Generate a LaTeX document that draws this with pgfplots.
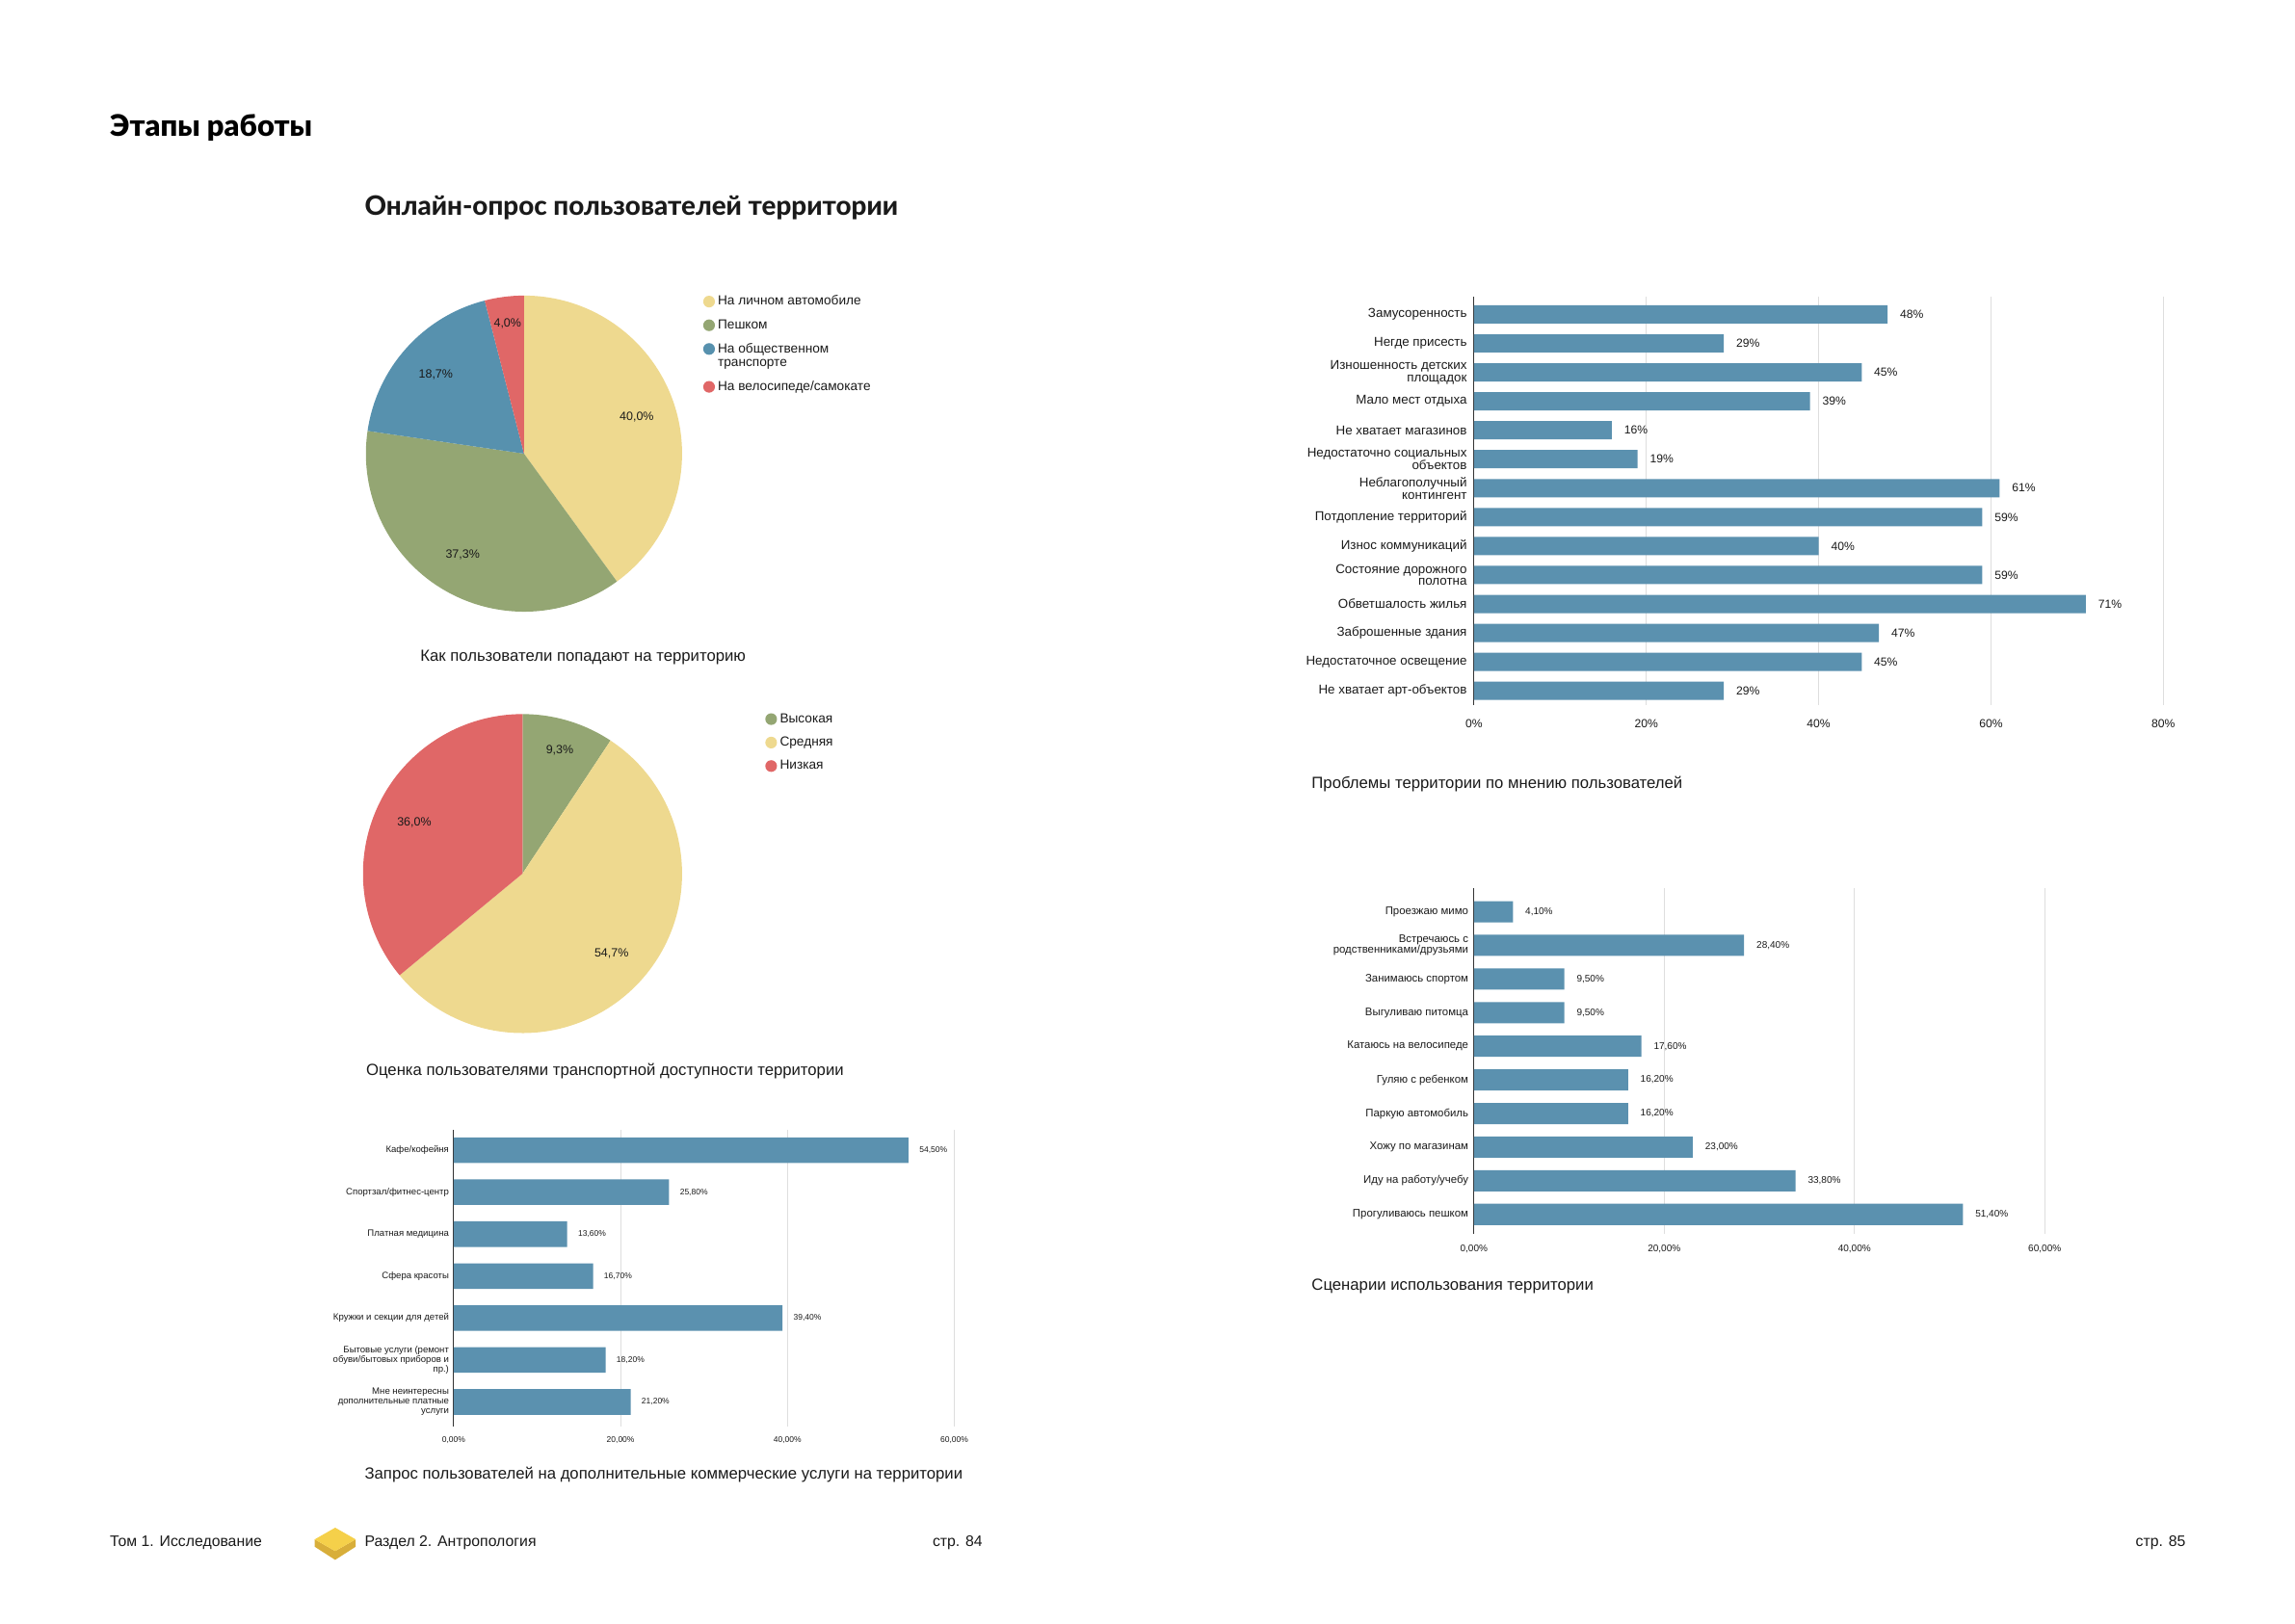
\documentclass[border=0pt]{standalone}
\usepackage{fontspec}
\setmainfont{Liberation Sans}
\IfFontExistsTF{Lato Black}{\newfontfamily\heavyfont{Lato Black}}{\newcommand\heavyfont{\bfseries}}
\IfFontExistsTF{Lato Heavy}{\newfontfamily\semiheavyfont{Lato Heavy}}{\newcommand\semiheavyfont{\bfseries}}
\usepackage{pgfplots}
\usepackage{pgfplotstable}
\pgfplotsset{compat=1.18}
\pgfkeys{/pgf/number format/assume math mode=true}

\definecolor{barblue}{HTML}{5B91AF}
\definecolor{pieyellow}{HTML}{EED98F}
\definecolor{piegreen}{HTML}{94A673}
\definecolor{pieblue}{HTML}{5791AE}
\definecolor{piered}{HTML}{E06767}
\definecolor{gridgray}{HTML}{DEDEDE}
\definecolor{axisgray}{HTML}{333333}
\definecolor{txt}{HTML}{1A1A1A}
\definecolor{logoA}{HTML}{F5D04A}
\definecolor{logoB}{HTML}{D8AE3A}

% pie data: share, colour, label radius
\pgfplotstableread{
v c r
40.0 pieyellow 0.75
37.3 piegreen 0.75
18.7 pieblue 0.75
4.0 piered 0.83
}\pieone
\pgfplotstableread{
v c r
9.3 piegreen 0.81
54.7 pieyellow 0.75
36.0 piered 0.75
}\pietwo

\newcommand\drawpie[2]{%
  \pgfplotstablegetrowsof{#1}%
  \pgfmathtruncatemacro\pien{\pgfplotsretval-1}%
  \xdef\pieang{90}%
  \foreach \i in {0,...,\pien}{%
    \pgfplotstablegetelem{\i}{v}\of{#1}\let\pv\pgfplotsretval
    \pgfplotstablegetelem{\i}{c}\of{#1}\let\pc\pgfplotsretval
    \pgfplotstablegetelem{\i}{r}\of{#1}\let\pr\pgfplotsretval
    \pgfmathsetmacro\pend{\pieang-3.6*\pv}%
    \pgfmathsetmacro\pmid{(\pieang+\pend)/2}%
    \pgfmathsetmacro\px{cos(\pieang)}%
    \pgfmathsetmacro\py{sin(\pieang)}%
    \pgfmathsetmacro\lx{\pr*cos(\pmid)}%
    \pgfmathsetmacro\ly{\pr*sin(\pmid)}%
    \fill[color=\pc] (axis cs:0,0) -- (axis cs:\px,\py)
      arc[start angle=\pieang, end angle=\pend, radius=#2] -- cycle;
    \node[font=\fontsize{8.2}{9}\selectfont, text=txt] at (axis cs:\lx,\ly)
      {\pgfmathprintnumber[fixed,fixed zerofill,precision=1,use comma]{\pv}\%};
    \xdef\pieang{\pend}%
  }%
}

\pgfplotsset{
  pieax/.style={
    anchor=center, scale only axis, hide axis, clip=false,
    xmin=-1, xmax=1, ymin=-1, ymax=1,
    legend cell align=left,
    legend image code/.code={\path[draw=none, fill=none] (-4pt,-4pt) rectangle (4pt,4pt);
      \fill[overlay, ##1, draw=none] (0pt,0pt) circle (4pt);},
    legend style={draw=none, fill=none, anchor=north west, inner sep=0pt,
      font=\fontsize{9}{9.5}\selectfont, row sep=4.3pt, text=txt,
      cells={align=left}},
  },
  hbar/.style={
    xbar, scale only axis, anchor=south west, y dir=reverse, xmin=0,
    axis lines*=left, axis line style={-},
    x axis line style={draw=none},
    y axis line style={draw=axisgray, line width=0.7pt},
    xmajorgrids, major grid style={draw=gridgray, line width=0.6pt},
    tick style={draw=none},
    point meta=x, nodes near coords,
    every node near coord/.append style={text=txt, anchor=west, xshift=2pt},
    yticklabel style={align=right, text=txt},
    xticklabel style={text=txt},
  },
  pct2/.style={
    nodes near coords={\pgfmathprintnumber[fixed,fixed zerofill,precision=2,use comma]{\pgfplotspointmeta}\%},
    xticklabel={\pgfmathprintnumber[fixed,fixed zerofill,precision=2,use comma]{\tick}\%},
  },
}
\tikzset{lbl/.style={anchor=base west, inner sep=0pt, text=txt}}

\begin{document}
\begin{tikzpicture}
\path[use as bounding box] (0pt,0pt) rectangle (1568pt,-1109.2pt);

% headings
\node[lbl, font=\fontsize{20.3}{23}\selectfont\heavyfont, text=black] at (75pt,-93pt) {Этапы работы};
\node[lbl, font=\fontsize{18.3}{21}\selectfont\semiheavyfont] at (249pt,-147pt) {Онлайн-опрос пользователей территории};

% pie 1
\begin{axis}[pieax, at={(358pt,-310pt)}, width=216pt, height=216pt,
  legend style={at={(1.066,1.01)}}]
  \addlegendimage{fill=pieyellow}\addlegendentry{На личном автомобиле}
  \addlegendimage{fill=piegreen}\addlegendentry{Пешком}
  \addlegendimage{fill=pieblue, yshift=4.75pt}\addlegendentry{На общественном\\транспорте}
  \addlegendimage{fill=piered}\addlegendentry{На велосипеде/самокате}
  \pgfplotsextra{\drawpie{\pieone}{108pt}}
\end{axis}
\node[lbl, font=\fontsize{11}{12}\selectfont] at (287pt,-452pt) {Как пользователи попадают на территорию};

% pie 2
\begin{axis}[pieax, at={(357pt,-597pt)}, width=218pt, height=218pt,
  legend style={at={(1.26,1.012)}}]
  \addlegendimage{fill=piegreen}\addlegendentry{Высокая}
  \addlegendimage{fill=pieyellow}\addlegendentry{Средняя}
  \addlegendimage{fill=piered}\addlegendentry{Низкая}
  \pgfplotsextra{\drawpie{\pietwo}{109pt}}
\end{axis}
\node[lbl, font=\fontsize{11}{12}\selectfont] at (250pt,-735pt) {Оценка пользователями транспортной доступности территории};

% bar chart: commercial services
\begin{axis}[hbar, pct2, at={(310pt,-975pt)}, width=342pt, height=203pt,
  xmax=60, xtick={0,20,40,60}, ymin=-0.49, ymax=6.59, ytick={0,...,6},
  yticklabels={Кафе/кофейня, Спортзал/фитнес-центр, Платная медицина, Сфера красоты,
    Кружки и секции для детей, {Бытовые услуги (ремонт\\обуви/бытовых приборов и\\пр.)},
    {Мне неинтересны\\дополнительные платные\\услуги}},
  yticklabel style={font=\fontsize{6.3}{6.5}\selectfont, xshift=4.5pt},
  xticklabel style={font=\fontsize{5.6}{6}\selectfont, yshift=-3pt},
  every node near coord/.append style={font=\fontsize{5.6}{6}\selectfont, xshift=2pt}]
\addplot[fill=barblue, draw=none, bar width=17.5pt] coordinates {
  (54.5,0) (25.8,1) (13.6,2) (16.7,3) (39.4,4) (18.2,5) (21.2,6)};
\end{axis}
\node[lbl, font=\fontsize{11}{12}\selectfont] at (249pt,-1011pt) {Запрос пользователей на дополнительные коммерческие услуги на территории};

% bar chart: problems
\begin{axis}[hbar, at={(1007pt,-482pt)}, width=471pt, height=279pt,
  xmax=80, xtick={0,20,40,60,80}, ymin=-0.6, ymax=13.5, ytick={0,...,13},
  xticklabel={\pgfmathprintnumber[fixed,precision=0]{\tick}\%},
  nodes near coords={\pgfmathprintnumber[fixed,precision=0]{\pgfplotspointmeta}\%},
  yticklabels={Замусоренность, Негде присесть, {Изношенность детских\\площадок},
    Мало мест отдыха, Не хватает магазинов, {Недостаточно социальных\\объектов},
    {Неблагополучный\\контингент}, Потдопление территорий, Износ коммуникаций,
    {Состояние дорожного\\полотна}, Обветшалость жилья, Заброшенные здания,
    Недостаточное освещение, Не хватает арт-объектов},
  yticklabel style={font=\fontsize{8.8}{8.4}\selectfont, xshift=3pt},
  xticklabel style={font=\fontsize{8}{9}\selectfont, yshift=-6pt},
  every node near coord/.append style={font=\fontsize{8}{9}\selectfont, xshift=3pt}]
\addplot[fill=barblue, draw=none, bar width=12.5pt] coordinates {
  (48,0) (29,1) (45,2) (39,3) (16,4) (19,5) (61,6) (59,7) (40,8) (59,9)
  (71,10) (47,11) (45,12) (29,13)};
\end{axis}
\node[lbl, font=\fontsize{11}{12}\selectfont] at (896pt,-539pt) {Проблемы территории по мнению пользователей};

% bar chart: scenarios
\begin{axis}[hbar, pct2, at={(1007pt,-843pt)}, width=390pt, height=236pt,
  xmax=60, xtick={0,20,40,60}, ymin=-0.7, ymax=9.57, ytick={0,...,9},
  yticklabels={Проезжаю мимо, {Встречаюсь с\\родственниками/друзьями}, Занимаюсь спортом,
    Выгуливаю питомца, Катаюсь на велосипеде, Гуляю с ребенком, Паркую автомобиль,
    Хожу по магазинам, Иду на работу/учебу, Прогуливаюсь пешком},
  yticklabel style={font=\fontsize{7.5}{7.4}\selectfont, xshift=4pt},
  xticklabel style={font=\fontsize{6.6}{7}\selectfont, yshift=-4pt},
  every node near coord/.append style={font=\fontsize{6.6}{7}\selectfont, xshift=3pt}]
\addplot[fill=barblue, draw=none, bar width=14.5pt] coordinates {
  (4.1,0) (28.4,1) (9.5,2) (9.5,3) (17.6,4) (16.2,5) (16.2,6) (23.0,7) (33.8,8) (51.4,9)};
\end{axis}
\node[lbl, font=\fontsize{11}{12}\selectfont] at (896pt,-882pt) {Сценарии использования территории};

% footer
\begin{scope}[font=\fontsize{10.4}{12}\selectfont]
\node[lbl] at (75pt,-1057pt) {Том 1. Исследование};
\node[lbl] at (249pt,-1057pt) {Раздел 2. Антропология};
\node[lbl] at (637pt,-1057pt) {стр. 84};
\node[lbl] at (1459pt,-1057pt) {стр. 85};
\end{scope}
\fill[logoB] (215pt,-1052pt) -- (229pt,-1060pt) -- (243pt,-1052pt) -- (243pt,-1057pt) -- (229pt,-1066pt) -- (215pt,-1057pt) -- cycle;
\fill[logoA] (215pt,-1052pt) -- (229pt,-1044pt) -- (243pt,-1052pt) -- (229pt,-1060pt) -- cycle;
\end{tikzpicture}
\end{document}
